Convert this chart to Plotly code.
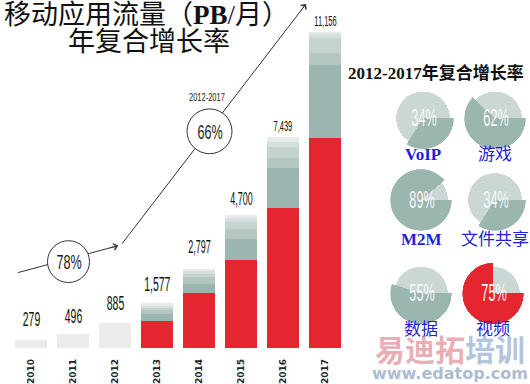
import math
import json
import plotly.graph_objects as go

# ---------------- data ----------------
years = ["2010", "2011", "2012", "2013", "2014", "2015", "2016", "2017"]
totals = [279, 496, 885, 1577, 2797, 4700, 7439, 11156]
total_labels = ["279", "496", "885", "1,577", "2,797", "4,700", "7,439", "11,156"]
history = [279, 496, 885, None, None, None, None, None]
video = [None, None, None, 946, 1950, 3122, 4950, 7401]
web_data = [None, None, None, 252, 325, 740, 1400, 2608]
m2m = [None, None, None, 158, 228, 354, 350, 410]
file_sharing = [None, None, None, 95, 130, 225, 390, 527]
gaming = [None, None, None, 63, 98, 161, 180, 140]
voip = [None, None, None, 63, 66, 98, 169, 70]

cagr_early = "78%"
cagr_late_period = "2012-2017"
cagr_late = "66%"

pie_names = ["VoIP", "游戏", "M2M", "文件共享", "数据", "视频"]
pie_cagr = [34, 62, 89, 34, 55, 75]

title_line1 = '移动应用流量（<span style="font-family:Liberation Serif"><b>PB</b>/</span>月）'
title_line2 = "年复合增长率"
pie_title = "2012-2017年复合增长率"

# ---------------- style ----------------
W, H = 530, 384
NUMF = "Liberation Sans, Arial, sans-serif"
CJK = "Noto Sans CJK SC, sans-serif"
SERIF_CJK = "Liberation Serif, Noto Sans CJK SC, serif"
RED = "#e3262f"
SEG_COLORS = ["#9bb6b0", "#b3c6c2", "#c5d3d0", "#d6dfdd", "#e5ebea"]
HIST_COLOR = "#ebebea"
PIE_LIGHT = "#cad7d4"
PIE_DARK = "#9bb5af"
BLUE = "#1f1fd8"
LABEL_SIZES = [21, 21, 21, 21, 18, 18, 15, 15]
LABEL_SHIFT = [8, 5, 7, 6, 10, 4, 1, 1]


def px(x, y):
    return x / W, 1 - y / H


fig = go.Figure()

fig.add_trace(go.Bar(x=years, y=history, marker_color=HIST_COLOR, width=0.76,
                     marker_line_width=0, hoverinfo="skip"))
fig.add_trace(go.Bar(x=years, y=video, marker_color=RED, width=0.76,
                     marker_line_width=0, name="视频"))
for vals, col, nm in zip([web_data, m2m, file_sharing, gaming, voip], SEG_COLORS,
                         ["数据", "M2M", "文件共享", "游戏", "VoIP"]):
    fig.add_trace(go.Bar(x=years, y=vals, marker_color=col, width=0.76,
                         marker_line_width=0, name=nm))

annotations = []
condense = {}  # annotation index -> horizontal squeeze (narrow display type)


def add_ann(squeeze=None, **kw):
    if squeeze:
        condense[len(annotations)] = squeeze
    annotations.append(kw)


for i, (tot, lab) in enumerate(zip(totals, total_labels)):
    add_ann(squeeze=0.5, x=i, y=tot, xref="x", yref="y", text=lab, showarrow=False,
            xanchor="center", yanchor="bottom", yshift=LABEL_SHIFT[i],
            font=dict(family=NUMF, size=LABEL_SIZES[i], color="#111"))

# ---------------- pies (barpolar) ----------------
pie_centers = [(423, 119), (495, 119), (421, 201), (495, 201), (421, 295), (493, 295)]
pie_label_y = [155, 155, 241, 241, 331, 331]
R_OUT = 31
for k, (name, p) in enumerate(zip(pie_names, pie_cagr)):
    sub = "polar" if k == 0 else f"polar{k+1}"
    dark = RED if name == "视频" else PIE_DARK
    dw = 360 * p / 100
    fig.add_trace(go.Barpolar(r=[0.87], theta=[dw + (360 - dw) / 2], width=[360 - dw],
                              marker_color=PIE_LIGHT, marker_line_width=0, subplot=sub,
                              hoverinfo="skip"))
    fig.add_trace(go.Barpolar(r=[1.0], theta=[dw / 2], width=[dw],
                              marker_color=dark, marker_line_width=0, subplot=sub,
                              name=name))
    cx, cy = pie_centers[k]
    x0, y1 = px(cx - R_OUT, cy - R_OUT)
    x1, y0 = px(cx + R_OUT, cy + R_OUT)
    fig.layout[sub] = dict(domain=dict(x=[x0, x1], y=[y0, y1]),
                           radialaxis=dict(visible=False, range=[0, 1]),
                           angularaxis=dict(visible=False, direction="clockwise", rotation=0),
                           bgcolor="rgba(0,0,0,0)", bargap=0)
    tx, ty = px(cx + 1, cy)
    add_ann(squeeze=0.55, x=tx, y=ty, xref="paper", yref="paper", text=f"{p}%",
            showarrow=False, xanchor="center", yanchor="middle",
            font=dict(family=NUMF, size=23, color="#f7f7f7"))
    lx, ly = px(cx, pie_label_y[k])
    bold = name.isascii()
    add_ann(x=lx, y=ly, xref="paper", yref="paper",
            text=f"<b>{name}</b>" if bold else name, showarrow=False,
            xanchor="center", yanchor="middle",
            font=dict(family=SERIF_CJK, size=17, color=BLUE))

# ---------------- titles ----------------
for txt, (x, y), size in [(title_line1, (146, 13), 27), (title_line2, (149, 40), 27)]:
    ax_, ay_ = px(x, y)
    add_ann(x=ax_, y=ay_, xref="paper", yref="paper", text=txt, showarrow=False,
            xanchor="center", yanchor="middle",
            font=dict(family=CJK, size=size, color="#111"))
ax_, ay_ = px(436, 73)
add_ann(x=ax_, y=ay_, xref="paper", yref="paper", text=f"<b>{pie_title}</b>",
        showarrow=False, xanchor="center", yanchor="middle",
        font=dict(family=SERIF_CJK, size=17, color="#111"))

# ---------------- growth arrows ----------------
shapes = []
arrows = [((18, 274), (118, 247)), ((122, 245), (306, 4))]
for (tx_, ty_), (hx, hy) in arrows:
    a0 = px(tx_, ty_)
    a1 = px(hx, hy)
    shapes.append(dict(type="line", xref="paper", yref="paper", x0=a0[0], y0=a0[1],
                       x1=a1[0], y1=a1[1], line=dict(color="#333", width=1)))
    dx, dy = hx - tx_, hy - ty_
    L = math.hypot(dx, dy)
    ux, uy = dx / L, dy / L
    add_ann(x=a1[0], y=a1[1], xref="paper", yref="paper", text="",
            showarrow=True, ax=-10 * ux, ay=-10 * uy, arrowhead=4,
            arrowsize=1.3, arrowwidth=1, arrowcolor="#333", standoff=0)

circles = [((68.5, 263), 21, cagr_early, None), ((209.5, 132), 22.5, cagr_late, cagr_late_period)]
for (cx, cy), r, txt, period in circles:
    x0, y1 = px(cx - r, cy - r)
    x1, y0 = px(cx + r, cy + r)
    shapes.append(dict(type="circle", xref="paper", yref="paper", x0=x0, x1=x1, y0=y0, y1=y1,
                       fillcolor="white", line=dict(color="#333", width=1)))
    tx, ty = px(cx, cy)
    add_ann(squeeze=0.6, x=tx, y=ty, xref="paper", yref="paper", text=txt, showarrow=False,
            xanchor="center", yanchor="middle",
            font=dict(family=NUMF, size=21, color="#222"))
    if period:
        tx, ty = px(cx - 3, cy - 34)
        add_ann(squeeze=0.75, x=tx, y=ty, xref="paper", yref="paper", text=period,
                showarrow=False, xanchor="center", yanchor="middle",
                font=dict(family=NUMF, size=10, color="#222"))

# ---------------- watermark ----------------
wx, wy = px(450, 350)
add_ann(x=wx, y=wy, xref="paper", yref="paper",
        text='<span style="color:rgba(225,140,150,0.7)">易迪拓</span>'
             '<span style="color:rgba(145,170,208,0.7)">培训</span>',
        showarrow=False, xanchor="center", yanchor="middle",
        font=dict(family=CJK, size=30, weight="bold"))
wx, wy = px(450, 375)
add_ann(x=wx, y=wy, xref="paper", yref="paper", text="www.edatop.com",
        showarrow=False, xanchor="center", yanchor="middle",
        font=dict(family="DejaVu Sans, sans-serif", size=16, weight="bold",
                  color="rgba(150,170,195,0.8)"))

# ---------------- layout ----------------
fig.update_layout(
    width=W, height=H, margin=dict(l=0, r=0, t=0, b=0),
    paper_bgcolor="white", plot_bgcolor="white", showlegend=False,
    barmode="stack", bargap=0.24,
    xaxis=dict(type="category", domain=[10 / W, 346 / W], range=[-0.5, 7.5],
               showgrid=False, zeroline=False, showline=False, ticks="",
               tickangle=-90, ticklabelstandoff=8,
               tickfont=dict(family="DejaVu Sans, sans-serif", size=9, weight="bold",
                             color="#1d2633")),
    yaxis=dict(domain=[(H - 350) / H, 1], range=[0, 350 * 35.1], visible=False),
    shapes=shapes, annotations=annotations,
)

post = """
document.body.style.margin = '0';
var squeeze = %s;
var gd = document.getElementById('{plot_id}');
gd.querySelectorAll('g.annotation').forEach(function (g) {
  var k = g.getAttribute('data-index');
  if (squeeze.hasOwnProperty(k)) {
    var t = g.querySelector('text.annotation-text');
    if (t) {
      t.style.transformBox = 'fill-box';
      t.style.transformOrigin = 'center';
      t.style.transform = 'scaleX(' + squeeze[k] + ')';
    }
  }
});
""" % json.dumps({str(k): v for k, v in condense.items()})

fig.write_html("out.html", post_script=post, config={"displayModeBar": False})
